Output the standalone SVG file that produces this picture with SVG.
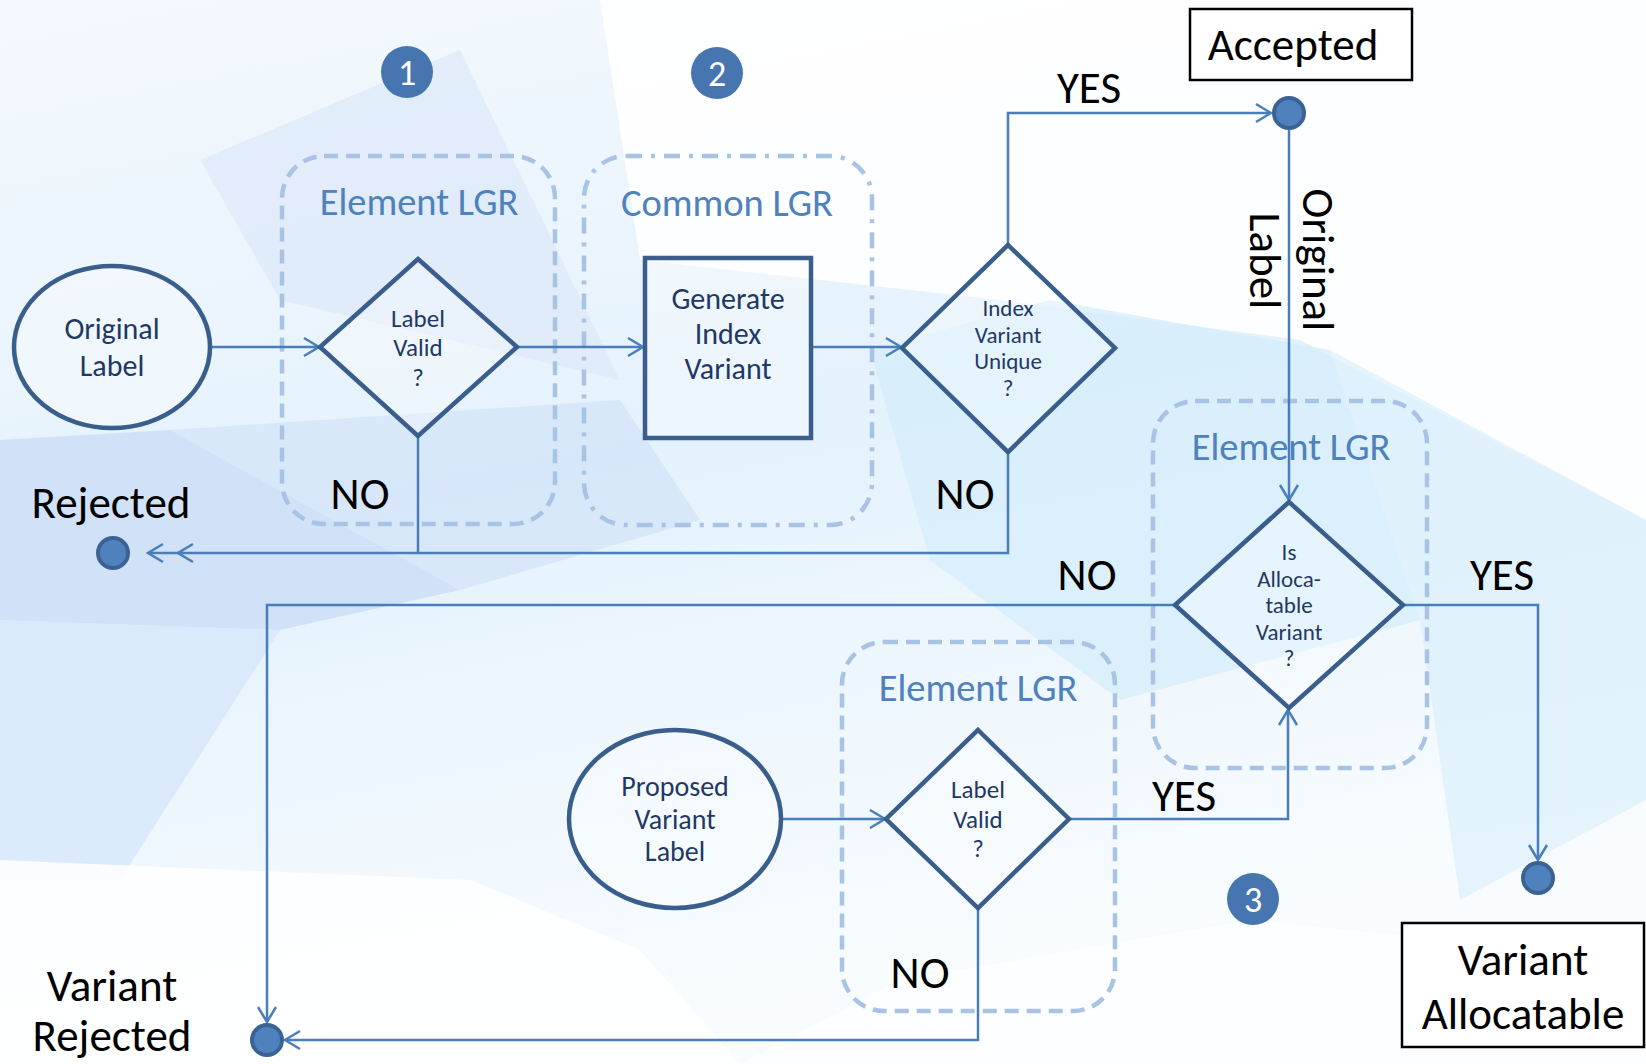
<svg xmlns="http://www.w3.org/2000/svg" width="1646" height="1064" viewBox="0 0 1646 1064">
<style>
text{font-family:"Carlito","Lato","Open Sans",sans-serif;text-anchor:middle}
.lgr{fill:none;stroke:#a8c3e3;stroke-width:4.5;stroke-dasharray:14 8}
.lgr2{fill:none;stroke:#a8c3e3;stroke-width:4.5;stroke-dasharray:16 9 4 9}
.lgrt{fill:#4f81bd;font-size:38.5px}
.node{fill:#ffffff;fill-opacity:0.3;stroke:#3a5e8c;stroke-width:4.5}
.nt{fill:#1f3864}
.conn{fill:none;stroke:#4a7ebb;stroke-width:2.5}
.dot{fill:#4f81bd;stroke:#3a6394;stroke-width:4}
.num{fill:#4675af}
.numt{fill:#ffffff;font-size:36px}
.lab{fill:#000000;font-size:45px}
.box{fill:#ffffff;stroke:#000000;stroke-width:2.5}
.bg{stroke:none}
</style>
<defs>
<marker id="arr" markerUnits="userSpaceOnUse" markerWidth="20" markerHeight="24" viewBox="-17 -12 20 24" refX="0" refY="0" orient="auto">
<path d="M-15,-9 L0,0 L-15,9" fill="none" stroke="#4a7ebb" stroke-width="2.5"/>
</marker>
<marker id="arr2" markerUnits="userSpaceOnUse" markerWidth="50" markerHeight="24" viewBox="-47 -12 50 24" refX="0" refY="0" orient="auto">
<path d="M-15,-9 L0,0 L-15,9 M-45,-9 L-30,0 L-45,9" fill="none" stroke="#4a7ebb" stroke-width="2.5"/>
</marker>
<linearGradient id="bgg" x1="0" y1="0" x2="0.3" y2="1">
<stop offset="0" stop-color="#f4f9fe"/>
<stop offset="0.5" stop-color="#e4f2fc"/>
<stop offset="1" stop-color="#f8fcff"/>
</linearGradient>
</defs>
<g id="background">
<rect x="0" y="0" width="1646" height="1064" fill="url(#bgg)"/>
<polygon class="bg" points="600,0 1646,0 1646,520 1300,340 1000,300 640,260" fill="#ffffff" fill-opacity="0.9"/>
<polygon class="bg" points="460,50 620,380 280,300 200,160" fill="#dde8f8" fill-opacity="0.7"/>
<polygon class="bg" points="0,440 170,430 460,590 280,630 0,620" fill="#cadcf6" fill-opacity="0.8"/>
<polygon class="bg" points="170,430 620,400 700,520 460,590" fill="#d2e2f8" fill-opacity="0.7"/>
<polygon class="bg" points="0,620 280,630 120,880 0,880" fill="#d3e5fa" fill-opacity="0.7"/>
<polygon class="bg" points="870,350 1050,300 1330,350 1420,620 1120,700 930,560" fill="#d4edfb" fill-opacity="0.7"/>
<polygon class="bg" points="1330,350 1646,520 1646,800 1460,900 1420,620" fill="#dcf0fb" fill-opacity="0.7"/>
<polygon class="bg" points="0,860 470,880 640,950 740,1064 0,1064" fill="#ffffff" fill-opacity="0.85"/>
<polygon class="bg" points="740,1064 900,980 1250,920 1646,960 1646,1064" fill="#ffffff" fill-opacity="0.6"/>
</g>
<g id="groups">
<rect id="lgr1" class="lgr" x="282" y="156" width="273" height="368" rx="42"/>
<rect id="common" class="lgr2" x="584" y="156" width="288" height="369" rx="42"/>
<rect id="lgr2" class="lgr" x="1153" y="401" width="274" height="367" rx="42"/>
<rect id="lgr3" class="lgr" x="842" y="642" width="273" height="369" rx="42"/>
<text class="lgrt" x="419" y="215">Element LGR</text>
<text class="lgrt" x="727" y="216">Common LGR</text>
<text class="lgrt" x="1291" y="460">Element LGR</text>
<text class="lgrt" x="978" y="701">Element LGR</text>
</g>
<g id="connectors">
<path class="conn" d="M211,347 H319" marker-end="url(#arr)"/>
<path class="conn" d="M517,347 H643" marker-end="url(#arr)"/>
<path class="conn" d="M812,347 H901" marker-end="url(#arr)"/>
<path class="conn" d="M1008,245 V113 H1271" marker-end="url(#arr)"/>
<path class="conn" d="M1289,130 V500" marker-end="url(#arr)"/>
<path class="conn" d="M418,436 V553"/>
<path class="conn" d="M1008,452 V553 H148" marker-end="url(#arr2)"/>
<path class="conn" d="M1175,605 H267 V1022" marker-end="url(#arr)"/>
<path class="conn" d="M1403,605 H1538 V860" marker-end="url(#arr)"/>
<path class="conn" d="M782,819 H885" marker-end="url(#arr)"/>
<path class="conn" d="M1069,819 H1288 V710" marker-end="url(#arr)"/>
<path class="conn" d="M978,908 V1040 H285" marker-end="url(#arr)"/>
</g>
<g id="n-original">
<ellipse class="node" cx="112" cy="347" rx="98" ry="81"/>
<text class="nt" font-size="30" x="112" y="339">Original</text>
<text class="nt" font-size="30" x="112" y="376">Label</text>
</g>
<g id="n-valid1">
<polygon class="node" points="418,259 517,347 418,436 320,347"/>
<text class="nt" font-size="25" x="418" y="327">Label</text>
<text class="nt" font-size="25" x="418" y="356">Valid</text>
<text class="nt" font-size="25" x="418" y="386">?</text>
</g>
<g id="n-generate">
<rect class="node" x="645" y="258" width="166" height="180"/>
<text class="nt" font-size="30" x="728" y="309">Generate</text>
<text class="nt" font-size="30" x="728" y="344">Index</text>
<text class="nt" font-size="30" x="728" y="379">Variant</text>
</g>
<g id="n-unique">
<polygon class="node" points="1008,245 1115,348 1008,452 902,348"/>
<text class="nt" font-size="23" x="1008" y="316">Index</text>
<text class="nt" font-size="23" x="1008" y="343">Variant</text>
<text class="nt" font-size="23" x="1008" y="369">Unique</text>
<text class="nt" font-size="23" x="1008" y="396">?</text>
</g>
<g id="n-allocatable">
<polygon class="node" points="1289,502 1403,605 1289,708 1175,605"/>
<text class="nt" font-size="23" x="1289" y="560">Is</text>
<text class="nt" font-size="23" x="1289" y="587">Alloca-</text>
<text class="nt" font-size="23" x="1289" y="613">table</text>
<text class="nt" font-size="23" x="1289" y="640">Variant</text>
<text class="nt" font-size="23" x="1289" y="666">?</text>
</g>
<g id="n-proposed">
<ellipse class="node" cx="675" cy="819" rx="106" ry="89"/>
<text class="nt" font-size="28" x="675" y="796">Proposed</text>
<text class="nt" font-size="28" x="675" y="829">Variant</text>
<text class="nt" font-size="28" x="675" y="861">Label</text>
</g>
<g id="n-valid2">
<polygon class="node" points="978,730 1069,819 978,908 886,819"/>
<text class="nt" font-size="25" x="978" y="798">Label</text>
<text class="nt" font-size="25" x="978" y="828">Valid</text>
<text class="nt" font-size="25" x="978" y="857">?</text>
</g>
<g id="n-accepted">
<rect class="box" x="1190" y="9" width="222" height="71"/>
<text class="lab" x="1293" y="60">Accepted</text>
<circle class="dot" cx="1289" cy="113" r="15"/>
</g>
<g id="n-rejected">
<text class="lab" x="111" y="518">Rejected</text>
<circle class="dot" cx="113" cy="553" r="15"/>
</g>
<g id="n-variant-rejected">
<text class="lab" x="112" y="1001">Variant</text>
<text class="lab" x="112" y="1051">Rejected</text>
<circle class="dot" cx="267" cy="1040" r="15"/>
</g>
<g id="n-variant-allocatable">
<circle class="dot" cx="1538" cy="878" r="15"/>
<rect class="box" x="1402" y="923" width="242" height="124"/>
<text class="lab" x="1523" y="975">Variant</text>
<text class="lab" x="1523" y="1029">Allocatable</text>
</g>
<g id="steps">
<circle class="num" cx="407" cy="72" r="26"/>
<text class="numt" x="407" y="85">1</text>
<circle class="num" cx="717" cy="73" r="26"/>
<text class="numt" x="717" y="86">2</text>
<circle class="num" cx="1253" cy="899" r="26"/>
<text class="numt" x="1253" y="912">3</text>
</g>
<g id="edge-labels">
<text class="lab" x="1089" y="103">YES</text>
<text class="lab" x="360" y="509">NO</text>
<text class="lab" x="965" y="509">NO</text>
<text class="lab" x="1087" y="590">NO</text>
<text class="lab" x="1502" y="590">YES</text>
<text class="lab" x="1184" y="811">YES</text>
<text class="lab" x="920" y="988">NO</text>
<text class="lab" transform="translate(1303,260) rotate(90)" x="0" y="0">Original</text>
<text class="lab" transform="translate(1250,261) rotate(90)" x="0" y="0">Label</text>
</g>
</svg>
